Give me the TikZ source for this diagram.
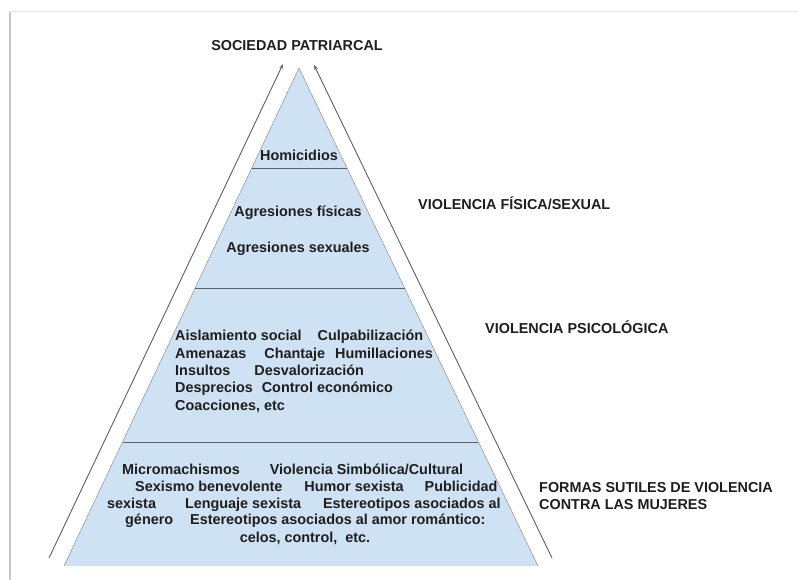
\documentclass[tikz,border=0pt]{standalone}
\usepackage{fontspec}
\setmainfont{Liberation Sans}
\usetikzlibrary{calc,arrows.meta}
\definecolor{piramide}{RGB}{207,226,243}
\definecolor{borde}{RGB}{95,95,95}
\definecolor{texto}{RGB}{30,30,30}
\tikzset{
  lbl/.style    = {inner sep=0pt, text=texto, anchor=base,
                   font=\bfseries\fontsize{14.4}{17.5}\selectfont},
  izq/.style    = {lbl, anchor=base west},
  franja/.style = {draw=borde, line width=0.8pt},
  flecha/.style = {draw=borde, line width=0.9pt,
                   -{Stealth[length=5pt,width=3.5pt]}}
}

\begin{document}
\begin{tikzpicture}[x=1pt,y=-1pt]
\useasboundingbox (0,0) rectangle (798,580);
% marco de la imagen
\draw[gray!45, line width=2pt] (10,580) -- (10,12);
\draw[gray!20, line width=1pt] (10,12) -- (798,12);
% piramide
\coordinate (A) at (299,68);
\coordinate (L) at (64,566);
\coordinate (R) at (538,566);
\fill[piramide] (A)--(L)--(R)--cycle;
\draw[borde!80] (L)--(A)--(R);
\foreach \t in {0.2008,0.4418,0.7510}
  \draw[franja] ($(A)!\t!(L)$) -- ($(A)!\t!(R)$); % limites de franjas
% lineas exteriores
\coordinate (lpie) at (49,558);
\coordinate (lpunta) at (283,64);
\coordinate (rpie) at (552,558);
\coordinate (rpunta) at (314,65);
\draw[flecha] (lpie) -- (lpunta);
\draw[flecha] (rpie) -- (rpunta);
\node[lbl] (soc) at (297,51) {SOCIEDAD PATRIARCAL};
% franja 1 y 2
\node[lbl] (hom) at (299,161) {Homicidios};
\node[lbl] (afis) at (298,217) {Agresiones físicas};
\node[lbl] (asex) at (298,252) {Agresiones sexuales};
% franja 3
\node[izq] (p1) at (175,340) {Aislamiento social\hspace{16pt}Culpabilización};
\node[izq] (p2) at (175,358) {Amenazas\hspace{18pt}Chantaje\hspace{10pt}Humillaciones};
\node[izq] (p3) at (175,375) {Insultos\hspace{24pt}Desvalorización};
\node[izq] (p4) at (175,392) {Desprecios\hspace{9pt}Control económico};
\node[izq] (p5) at (175,410) {Coacciones, etc};
% franja 4
\node[izq] (b1) at (122,474) {Micromachismos\hspace{30pt}Violencia Simbólica/Cultural};
\node[izq] (b2) at (135,491) {Sexismo benevolente\hspace{22pt}Humor sexista\hspace{21pt}Publicidad};
\node[izq] (b3) at (107,508) {sexista\hspace{29pt}Lenguaje sexista\hspace{22pt}Estereotipos asociados al};
\node[izq] (b4) at (125,524) {género\hspace{17pt}Estereotipos asociados al amor romántico:};
\node[lbl] (b5) at (305,542) {celos, control,\ \ etc.};
% rotulos a la derecha
\node[izq] (fis) at (418,210) {VIOLENCIA FÍSICA/SEXUAL};
\node[izq] (psi) at (485,333) {VIOLENCIA PSICOLÓGICA};
\node[izq] (sut1) at (539,492) {FORMAS SUTILES DE VIOLENCIA};
\node[izq] (sut2) at (539,509) {CONTRA LAS MUJERES};
\end{tikzpicture}
\end{document}
